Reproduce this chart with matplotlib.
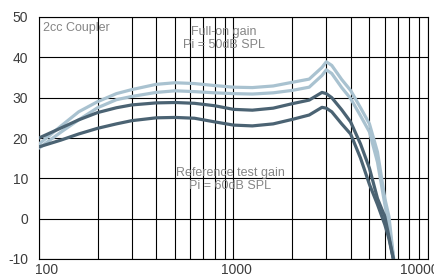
import numpy as np
import matplotlib
matplotlib.use("Agg")
import matplotlib.pyplot as plt
from matplotlib.ticker import FixedLocator, NullFormatter
from matplotlib.transforms import ScaledTranslation

# frequency points (Hz)
freq = [100, 130, 160, 200, 250, 300, 400, 500, 630, 800, 1000, 1250, 1600,
        2000, 2450, 2850, 3000, 3200, 3600, 4000, 4500, 5000, 5500, 6000, 6300, 6700]

# full-on gain, Pi = 50dB SPL (light curves)
full_hi = [18.5, 23.0, 26.5, 29.0, 31.0, 32.0, 33.3, 33.7, 33.5, 33.0, 32.6, 32.5, 32.9,
           33.8, 34.6, 37.5, 38.9, 38.0, 34.5, 31.8, 27.5, 23.5, 16.5, 5.0, 0.5, -11]
full_lo = [17.5, 21.5, 24.5, 27.5, 29.5, 30.3, 31.3, 31.7, 31.5, 31.2, 31.0, 30.9, 31.2,
           31.8, 32.6, 35.5, 36.9, 36.0, 32.5, 29.8, 25.5, 21.5, 14.0, 3.5, -1.5, -11]
# reference test gain, Pi = 60dB SPL (dark curves)
ref_hi = [20.0, 22.5, 24.5, 26.3, 27.5, 28.2, 28.7, 28.8, 28.6, 28.0, 27.1, 26.9, 27.4,
          28.5, 29.4, 31.3, 31.0, 30.0, 27.0, 24.0, 18.5, 12.5, 5.0, 0.5, -4.5, -11]
ref_lo = [17.8, 19.5, 21.0, 22.4, 23.5, 24.3, 25.0, 25.1, 24.9, 24.0, 23.2, 23.0, 23.5,
          24.6, 25.7, 27.6, 27.4, 26.5, 23.5, 21.0, 15.0, 8.5, 3.5, -1.5, -5.0, -11]

xticks = [100, 1000, 10000]
xlabels = ["100", "1000", "10000"]
yticks = [-10, 0, 10, 20, 30, 40, 50]

light = "#a9c2d0"
dark = "#4b6373"

plt.rcParams['font.family'] = ['Liberation Sans', 'DejaVu Sans']
plt.rcParams['axes.unicode_minus'] = False

fig = plt.figure(figsize=(4.35, 2.79), dpi=100)
ax = fig.add_axes([39/435, 20/279, 389/435, 242/279])

ax.plot(freq, full_hi, color=light, lw=2.3, solid_capstyle='round', zorder=3)
ax.plot(freq, full_lo, color=light, lw=2.3, solid_capstyle='round', zorder=3)
ax.plot(freq, ref_hi, color=dark, lw=2.3, solid_capstyle='round', zorder=3)
ax.plot(freq, ref_lo, color=dark, lw=2.3, solid_capstyle='round', zorder=3)

ax.set_xscale('log')
ax.set_xlim(100, 10000)
ax.set_ylim(-10, 50)
ax.set_yticks(yticks)
ax.set_xticks(xticks)
ax.set_xticklabels(xlabels)
ax.xaxis.set_minor_locator(FixedLocator([m * d for d in (100, 1000) for m in range(2, 10)]))
ax.xaxis.set_minor_formatter(NullFormatter())
ax.grid(True, which='both', axis='x', color='black', lw=0.8)
ax.grid(True, which='major', axis='y', color='black', lw=0.8)
ax.tick_params(which='both', length=0, labelsize=10, labelcolor='#3c3c3c')
ax.tick_params(axis='y', pad=8)
ax.tick_params(axis='x', pad=3)
for s in ax.spines.values():
    s.set_color('black')
    s.set_linewidth(0.8)

offsets = [7.7, 2.5, -9]
for lab, dx in zip(ax.get_xticklabels(), offsets):
    lab.set_transform(lab.get_transform() + ScaledTranslation(dx / 100, 0, fig.dpi_scale_trans))

ax.text(0.01, 0.955, "2cc Coupler", transform=ax.transAxes, fontsize=9,
        color='#858585', ha='left', va='center')
ax.text(0.4756, 0.912, "Full-on gain\nPi = 50dB SPL", transform=ax.transAxes,
        fontsize=9, color='#858585', ha='center', va='center', linespacing=1.1)
ax.text(0.491, 0.33, "Reference test gain\nPi = 60dB SPL", transform=ax.transAxes,
        fontsize=9, color='#858585', ha='center', va='center', linespacing=1.1)

fig.savefig("out.png", dpi=100)
